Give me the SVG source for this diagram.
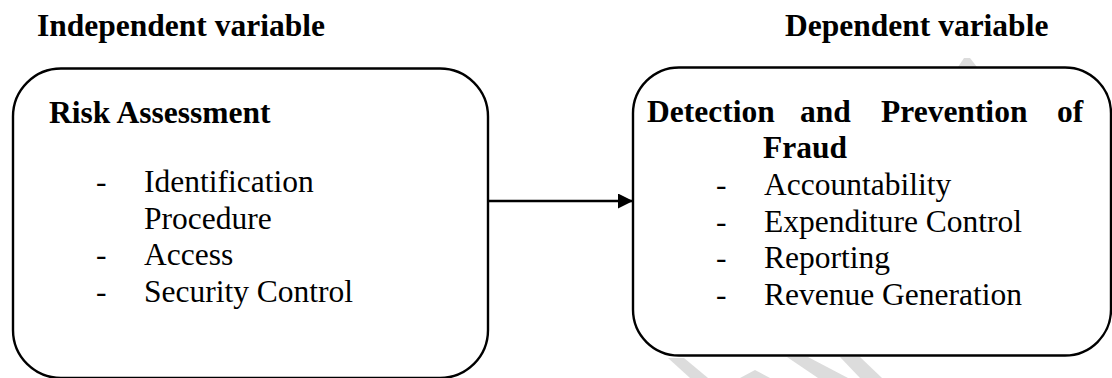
<svg xmlns="http://www.w3.org/2000/svg" width="1112" height="378" viewBox="0 0 1112 378">
  <style>
    .t { font-family: "Liberation Serif", "Times New Roman", serif; font-size: 31.5px; fill: #000; }
    .b { font-weight: bold; }
    .box { fill: #fff; stroke: #000; stroke-width: 2.4; }
    .wm { fill: #dcdcdc; }
    .conn { stroke: #000; stroke-width: 2.4; fill: none; }
  </style>
  <defs>
    <marker id="arrow" markerUnits="userSpaceOnUse" markerWidth="16" markerHeight="16" refX="15" refY="7.5" orient="auto">
      <path d="M0,0 L15,7.5 L0,15 Z" fill="#000"/>
    </marker>
  </defs>
  <rect width="1112" height="378" fill="#fff"/>
  <g id="watermark">
    <polygon class="wm" points="958,67 964,58 970,58 977,67"/>
    <polygon class="wm" points="668,358 684,358 708,378 690,378"/>
    <polygon class="wm" points="740,378 755,370 770,378"/>
    <polygon class="wm" points="787,357 808,357 848,378 818,378"/>
    <polygon class="wm" points="840,357 860,357 882,378 860,378"/>
  </g>
  <text class="t b" x="37" y="36">Independent variable</text>
  <text class="t b" x="785" y="36">Dependent variable</text>
  <g id="connectors">
    <line class="conn" x1="488" y1="201" x2="633" y2="201" marker-end="url(#arrow)"/>
  </g>
  <g id="risk-assessment">
    <rect class="box" x="13" y="68.5" width="475" height="309.5" rx="48" ry="48"/>
    <text class="t b" x="49" y="123">Risk Assessment</text>
    <text class="t" x="96" y="192">-</text>
    <text class="t" x="144" y="192">Identification</text>
    <text class="t" x="144" y="228.5">Procedure</text>
    <text class="t" x="96" y="265">-</text>
    <text class="t" x="144" y="265">Access</text>
    <text class="t" x="96" y="301.5">-</text>
    <text class="t" x="144" y="301.5">Security Control</text>
  </g>
  <g id="fraud">
    <rect class="box" x="633" y="67.5" width="478" height="288" rx="46" ry="46"/>
    <text class="t b" y="122"><tspan x="647">Detection</tspan><tspan x="800">and</tspan><tspan x="881">Prevention</tspan><tspan x="1057">of</tspan></text>
    <text class="t b" x="763" y="158">Fraud</text>
    <text class="t" x="716" y="195">-</text>
    <text class="t" x="764" y="195">Accountability</text>
    <text class="t" x="716" y="231.5">-</text>
    <text class="t" x="764" y="231.5">Expenditure Control</text>
    <text class="t" x="716" y="268">-</text>
    <text class="t" x="764" y="268">Reporting</text>
    <text class="t" x="716" y="304.5">-</text>
    <text class="t" x="764" y="304.5">Revenue Generation</text>
  </g>
</svg>
